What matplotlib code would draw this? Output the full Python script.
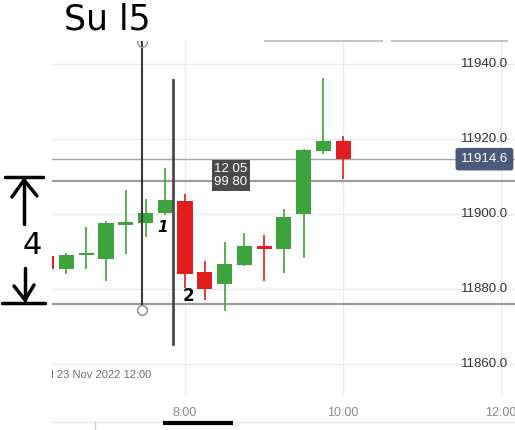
import matplotlib.pyplot as plt
import matplotlib.transforms as mtransforms

plt.rcParams['font.family'] = ['Liberation Sans', 'DejaVu Sans']

# 15 minute candles (time in hours of the day)
times = [6.25, 6.5, 6.75, 7.0, 7.25, 7.5, 7.75, 8.0, 8.25, 8.5, 8.75, 9.0, 9.25, 9.5, 9.75, 10.0]
opens = [11888.8, 11885.3, 11889.0, 11888.1, 11897.1, 11897.7, 11900.3, 11903.5,
         11884.5, 11881.4, 11886.5, 11891.5, 11890.7, 11900.1, 11916.9, 11919.5]
closes = [11885.3, 11889.1, 11889.5, 11897.7, 11897.9, 11900.3, 11903.7, 11884.1,
          11880.1, 11886.7, 11891.5, 11890.7, 11899.2, 11917.1, 11919.5, 11914.6]
highs = [11889.5, 11889.6, 11896.5, 11898.0, 11906.4, 11904.0, 11912.3, 11905.4,
         11887.5, 11892.5, 11894.9, 11894.4, 11901.3, 11917.3, 11936.3, 11920.8]
lows = [11884.5, 11884.1, 11885.4, 11882.2, 11889.4, 11893.9, 11899.6, 11880.3,
        11877.1, 11874.2, 11886.2, 11882.2, 11884.3, 11888.3, 11916.1, 11909.4]

y_ticks = [11860.0, 11880.0, 11900.0, 11920.0, 11940.0]
x_ticks = [8, 10, 12]
x_labels = ['8:00', '10:00', '12:00']

last_price = 11914.6
levels = [11908.8, 11876.1]          # drawn horizontal lines
vline1 = (7.456, 11874.4, 11945.9)   # time, bottom, top
vline2 = (7.842, 11865.3, 11935.7)
date_label = 'Wed 23 Nov 2022 12:00'
tooltip = '12 05\n99 80'

GREEN = '#3da33d'
RED = '#e21d1d'

W, H = 515, 430
fig = plt.figure(figsize=(W / 100, H / 100), dpi=100)
ax = fig.add_axes([52 / W, (H - 397) / H, (W - 52) / W, 356 / H])
ax.set_xlim(6.3165, 12.177)
ax.set_ylim(11851.2, 11946.1)
for s in ax.spines.values():
    s.set_visible(False)

ax.set_yticks(y_ticks)
ax.set_xticks(x_ticks, x_labels)
ax.tick_params(axis='y', left=False, labelleft=False)
ax.tick_params(axis='x', length=0, pad=7, labelcolor='#8a8a8a', labelsize=9)
ax.grid(color='#ececec', lw=1)
ax.set_axisbelow(True)

# candles
for t, o, c, h, l in zip(times, opens, closes, highs, lows):
    col = GREEN if c >= o else RED
    ax.vlines(t, l, h, color=col, lw=1.2, zorder=3)
    ax.bar(t, max(abs(c - o), 0.5), width=0.19, bottom=min(o, c), color=col, zorder=3)

# price labels on the right
tr = mtransforms.blended_transform_factory(ax.transAxes, ax.transData)
for v in y_ticks:
    ax.text(0.985, v, f'{v:.1f}', transform=tr, ha='right', va='center',
            fontsize=9.5, color='#333333', zorder=4)

ax.axhline(last_price, color='#a0a6b2', lw=1, zorder=2)
ax.text(0.985, last_price, f'{last_price:.1f}', transform=tr, ha='right', va='center',
        fontsize=9.5, color='white', zorder=6,
        bbox=dict(boxstyle='round,pad=0.4,rounding_size=0.2', fc='#4b5a78', ec='none'))

for lv in levels:
    ax.axhline(lv, color='#9c9c9c', lw=1.6, zorder=2)

# drawn vertical lines
ax.plot([vline1[0]] * 2, vline1[1:], color='#3a3a3a', lw=1.5, zorder=5, clip_on=False)
ax.plot(vline1[0], vline1[1], 'o', ms=7, mfc='white', mec='#888888', mew=1, zorder=6)
ax.plot(vline1[0], vline1[2], 'o', ms=7, mfc='none', mec='#999999', mew=1, zorder=6)
ax.plot([vline2[0]] * 2, vline2[1:], color='#4a4a4a', lw=2, zorder=5)

ax.text(8.582, 11910.3, tooltip, ha='center', va='center', fontsize=9.5, color='white',
        linespacing=1.15, zorder=6,
        bbox=dict(boxstyle='square,pad=0.2', fc='#4a4a4a', ec='none'))

ax.text(6.05, 11857.1, date_label, ha='left', va='center', fontsize=8,
        color='#707070', clip_on=True, zorder=4)

# overlay in pixel coordinates for the hand drawn marks
ov = fig.add_axes([0, 0, 1, 1], zorder=5)
ov.set_xlim(0, W)
ov.set_ylim(H, 0)
ov.axis('off')
ov.patch.set_visible(False)

ov.plot([265, 382], [41, 41], color='#c4c4c4', lw=1.5)
ov.plot([392, 507], [41, 41], color='#c4c4c4', lw=1.5)
ov.plot([52, 515], [422, 422], color='#e6e6e6', lw=1)
ov.plot([95, 95], [422, 430], color='#d0d0d0', lw=1)

hand = dict(color='black', lw=2.5, solid_capstyle='round')
ov.text(64, 20, 'Su l5', fontsize=25, family='DejaVu Sans', va='center', ha='left')
ov.plot([5, 43], [177, 177], **hand)
ov.plot([24, 24], [178, 224], **hand)
ov.plot([12, 24, 37], [197, 180, 196], **hand)
ov.text(32, 245, '4', fontsize=22, family='DejaVu Sans', va='center', ha='center')
ov.plot([25, 25], [268, 300], **hand)
ov.plot([14, 25, 34], [286, 300, 285], **hand)
ov.plot([2, 45], [303, 303], **hand)
ov.text(163, 227, '1', fontsize=11, family='DejaVu Sans', fontweight='bold',
        style='italic', va='center', ha='center')
ov.text(188, 296, '2', fontsize=12, family='DejaVu Sans', fontweight='bold',
        va='center', ha='center')
ov.plot([165, 231], [423, 423], color='black', lw=3)

fig.savefig('out.png', dpi=100)
